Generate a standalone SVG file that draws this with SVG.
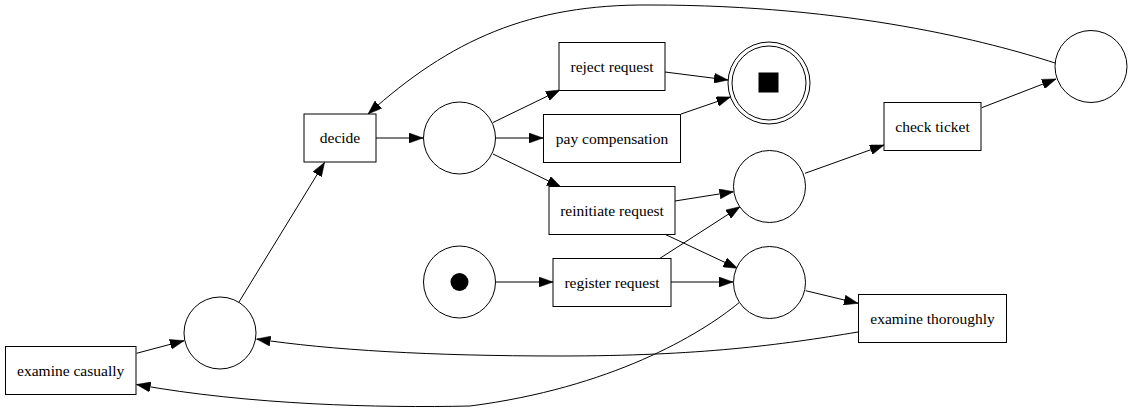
<svg xmlns="http://www.w3.org/2000/svg" width="1132" height="412" viewBox="0 0 1132 412">
<style>
.n{fill:#fff;stroke:#000;stroke-width:1}
.t{font-family:"Liberation Serif","Times New Roman",serif;font-size:15.5px;fill:#000;text-anchor:middle}
.e{fill:none;stroke:#000;stroke-width:1;marker-end:url(#ah)}
</style>
<defs>
<marker id="ah" markerUnits="userSpaceOnUse" markerWidth="14" markerHeight="10" viewBox="0 0 14 10" refX="14" refY="5" orient="auto">
<path d="M0,0 L14,5 L0,10 z" fill="#000" stroke="#000" stroke-width="0.5"/>
</marker>
</defs>
<rect width="1132" height="412" fill="#fff"/>
<g id="edges">
<path class="e" d="M136.5,353.3 L184,340.7"/>
<path class="e" d="M238.8,302.3 L324.5,162.5"/>
<path class="e" d="M376,138 L423,138"/>
<path class="e" d="M493,122.5 L560,90"/>
<path class="e" d="M495,138 L543,138"/>
<path class="e" d="M493,154 L561,187"/>
<path class="e" d="M665,72 L728,80"/>
<path class="e" d="M681,114 L730.5,97"/>
<path class="e" d="M675,201 L733.5,191.7"/>
<path class="e" d="M660,258.3 L740,206.7"/>
<path class="e" d="M665,234.3 L737.5,268.3"/>
<path class="e" d="M496,282 L553,282"/>
<path class="e" d="M671,282 L733,282"/>
<path class="e" d="M805,173.3 L884,145"/>
<path class="e" d="M981.7,107.7 L1056,79"/>
<path class="e" d="M805.7,290.7 L858,303.3"/>
<path class="e" d="M1055,63 C990,42 850,5 650,5 C530,4 450,40 368,114"/>
<path class="e" d="M858,332 C780,345 700,356 560,356 C430,356 330,350 256.5,339"/>
<path class="e" d="M739,302.7 C700,335 610,388 470,406 C380,408 250,405 136.5,384.5"/>
</g>
<g id="t_examine_casually"><rect class="n" x="5.5" y="346.5" width="130.5" height="48"/><text class="t" x="70.7" y="375.5">examine casually</text></g>
<g id="t_decide"><rect class="n" x="304" y="114" width="72" height="48"/><text class="t" x="340" y="143">decide</text></g>
<g id="t_reject_request"><rect class="n" x="559" y="42.5" width="106" height="48"/><text class="t" x="612" y="71.5">reject request</text></g>
<g id="t_pay_compensation"><rect class="n" x="543.5" y="114.5" width="137" height="48"/><text class="t" x="612" y="143.5">pay compensation</text></g>
<g id="t_reinitiate_request"><rect class="n" x="549" y="186.5" width="126" height="48"/><text class="t" x="612" y="215.5">reinitiate request</text></g>
<g id="t_register_request"><rect class="n" x="553" y="258.5" width="118" height="48"/><text class="t" x="612" y="287.5">register request</text></g>
<g id="t_check_ticket"><rect class="n" x="884" y="102.5" width="97" height="48"/><text class="t" x="932.5" y="131.5">check ticket</text></g>
<g id="t_examine_thoroughly"><rect class="n" x="858.5" y="294.5" width="148" height="48"/><text class="t" x="932.5" y="323.5">examine thoroughly</text></g>
<g id="p_start"><circle class="n" cx="459.5" cy="282" r="36"/><circle cx="459.5" cy="282" r="9" fill="#000"/></g>
<g id="p_1"><circle class="n" cx="220" cy="333" r="36"/></g>
<g id="p_2"><circle class="n" cx="459.5" cy="138" r="36"/></g>
<g id="p_3"><circle class="n" cx="769.5" cy="186.5" r="36"/></g>
<g id="p_4"><circle class="n" cx="769.5" cy="282.5" r="36"/></g>
<g id="p_5"><circle class="n" cx="1091" cy="66.5" r="36"/></g>
<g id="p_end"><circle class="n" cx="769" cy="83" r="41"/><circle class="n" cx="769" cy="83" r="37"/><rect x="758.5" y="72.5" width="20" height="20" fill="#000"/></g>
</svg>
